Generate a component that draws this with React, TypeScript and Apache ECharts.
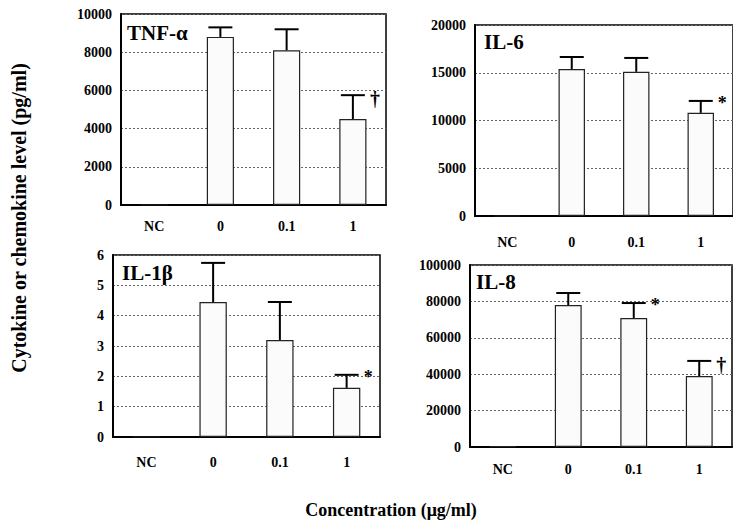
import React, { useEffect, useRef } from "react";
import * as echarts from "echarts";

const categories = ["NC", "0", "0.1", "1"];

const tnfMean = [0, 8800, 8100, 4500];
const tnfErr = [0, 9300, 9200, 5750];
const tnfMarks = ["", "", "", "†"];

const il6Mean = [0, 15400, 15100, 10800];
const il6Err = [0, 16650, 16550, 12050];
const il6Marks = ["", "", "", "*"];

const il1bMean = [0, 4.45, 3.2, 1.62];
const il1bErr = [0, 5.74, 4.45, 2.05];
const il1bMarks = ["", "", "", "*"];

const il8Mean = [500, 78000, 70900, 39000];
const il8Err = [500, 84600, 79100, 47300];
const il8Marks = ["", "", "*", "†"];

const panelTitles = ["TNF-α", "IL-6", "IL-1β", "IL-8"];
const yMax = [10000, 20000, 6, 100000];
const yStep = [2000, 5000, 1, 20000];

const FONT = "'Liberation Serif', 'Times New Roman', serif";

const grids = [
  { left: 121, top: 14, width: 265, height: 191 },
  { left: 475, top: 25, width: 264, height: 191 },
  { left: 113, top: 255, width: 267, height: 182 },
  { left: 470, top: 265, width: 262, height: 182 },
];
const catMargins = [14, 19, 18, 15];
const titlePos = [
  [127, 33],
  [484, 42],
  [122, 273],
  [476, 282],
];

export default function App() {
  const ref = useRef<HTMLDivElement>(null);

  useEffect(() => {
    if (!ref.current) return;
    const chart = echarts.init(ref.current, undefined, { renderer: "svg" });

    const means = [tnfMean, il6Mean, il1bMean, il8Mean];
    const errs = [tnfErr, il6Err, il1bErr, il8Err];
    const marks = [tnfMarks, il6Marks, il1bMarks, il8Marks];

    const xAxis = grids.map((_, i) => ({
      type: "category",
      gridIndex: i,
      data: categories,
      axisLine: { show: true, lineStyle: { color: "#000", width: 2 } },
      axisTick: { show: false },
      axisLabel: {
        margin: catMargins[i],
        color: "#000",
        fontFamily: FONT,
        fontWeight: "bold",
        fontSize: 14,
        interval: 0,
      },
    }));

    const yAxis = grids.map((_, i) => ({
      type: "value",
      gridIndex: i,
      min: 0,
      max: yMax[i],
      interval: yStep[i],
      axisLine: { show: true, lineStyle: { color: "#000", width: 2 } },
      axisTick: { show: false },
      axisLabel: {
        margin: 9,
        color: "#000",
        fontFamily: FONT,
        fontWeight: "bold",
        fontSize: 14,
        formatter: (v: number) => String(v),
      },
      splitLine: {
        show: true,
        lineStyle: { color: "#666", width: 1, type: [2, 2] },
      },
    }));

    const series: any[] = [];
    grids.forEach((_, i) => {
      series.push({
        type: "bar",
        xAxisIndex: i,
        yAxisIndex: i,
        data: means[i],
        barWidth: "41%",
        itemStyle: {
          color: "#fbfbfb",
          borderColor: "#222",
          borderWidth: 1.2,
        },
        z: 2,
      });
      const m = marks[i];
      series.push({
        type: "custom",
        xAxisIndex: i,
        yAxisIndex: i,
        z: 5,
        data: categories.map((_, k) => [k, means[i][k], errs[i][k]]),
        renderItem: (params: any, api: any) => {
          const x = api.value(0);
          const mean = api.value(1);
          const err = api.value(2);
          const children: any[] = [];
          const label = m[params.dataIndex];
          if (err > mean) {
            const p0 = api.coord([x, mean]);
            const p1 = api.coord([x, err]);
            const half = 12;
            children.push({
              type: "line",
              shape: { x1: p0[0], y1: p0[1], x2: p1[0], y2: p1[1] },
              style: { stroke: "#000", lineWidth: 2 },
            });
            children.push({
              type: "line",
              shape: { x1: p1[0] - half, y1: p1[1], x2: p1[0] + half, y2: p1[1] },
              style: { stroke: "#000", lineWidth: 2 },
            });
            if (label) {
              const isStar = label === "*";
              children.push({
                type: "text",
                x: p1[0] + half + 5,
                y: p1[1] + (isStar ? 2 : 4),
                style: {
                  text: label,
                  fill: "#000",
                  font: `bold ${isStar ? 18 : 20}px ${FONT}`,
                  textAlign: "left",
                  textVerticalAlign: "middle",
                },
              });
            }
          }
          return { type: "group", children };
        },
      });
    });

    const graphic: any[] = panelTitles.map((t, i) => ({
      type: "text",
      x: titlePos[i][0],
      y: titlePos[i][1],
      style: {
        text: t,
        fill: "#000",
        font: `bold 21px ${FONT}`,
        textAlign: "left",
        textVerticalAlign: "middle",
      },
      z: 10,
    }));
    graphic.push({
      type: "text",
      x: 19,
      y: 218,
      rotation: Math.PI / 2,
      style: {
        text: "Cytokine or chemokine level (pg/ml)",
        fill: "#000",
        font: `bold 20px ${FONT}`,
        textAlign: "center",
        textVerticalAlign: "middle",
      },
    });
    graphic.push({
      type: "text",
      x: 391,
      y: 510,
      style: {
        text: "Concentration (μg/ml)",
        fill: "#000",
        font: `bold 18px ${FONT}`,
        textAlign: "center",
        textVerticalAlign: "middle",
      },
    });

    chart.setOption({
      animation: false,
      backgroundColor: "#fff",
      grid: grids.map((g) => ({
        ...g,
        show: true,
        borderColor: "#000",
        borderWidth: 1.5,
        backgroundColor: "transparent",
        containLabel: false,
      })),
      xAxis,
      yAxis,
      series,
      graphic,
    });

    return () => chart.dispose();
  }, []);

  return (
    <div
      ref={ref}
      style={{ position: "fixed", left: 0, top: 0, width: 733, height: 529 }}
    />
  );
}
